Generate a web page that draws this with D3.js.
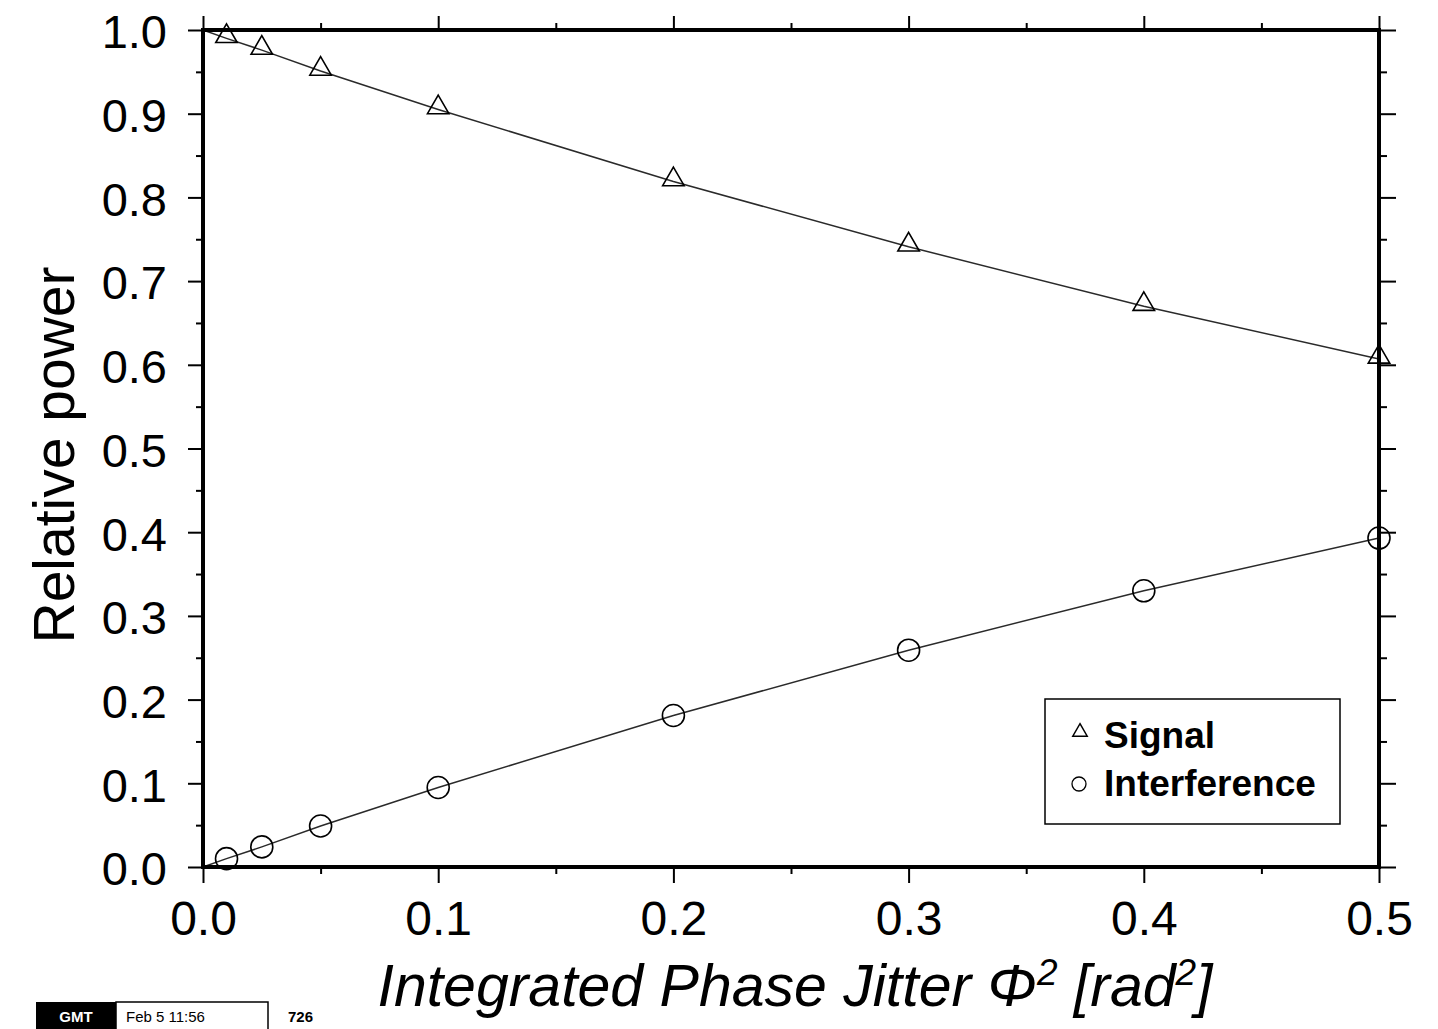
<!DOCTYPE html>
<html>
<head>
<meta charset="utf-8">
<script src="https://cdn.jsdelivr.net/npm/d3@7"></script>
<style>
  html, body { margin: 0; padding: 0; background: #fff; }
  svg { display: block; font-family: "Liberation Sans", Arial, Helvetica, sans-serif; }
</style>
</head>
<body>
<script>
// Integrated phase jitter (rad^2) at which power was evaluated
const jitter = [0, 0.01, 0.025, 0.05, 0.1, 0.2, 0.3, 0.4, 0.5];
// Relative power remaining in the signal
const signalPower = [1.0, 0.990, 0.976, 0.951, 0.905, 0.819, 0.741, 0.670, 0.607];
// Relative power scattered into interference
const interferencePower = [0.0, 0.010, 0.024, 0.049, 0.095, 0.181, 0.259, 0.330, 0.393];

const xMajor = [0, 0.1, 0.2, 0.3, 0.4, 0.5];
const xMinor = [0.05, 0.15, 0.25, 0.35, 0.45];
const yMajor = [0, 0.1, 0.2, 0.3, 0.4, 0.5, 0.6, 0.7, 0.8, 0.9, 1.0];
const yMinor = [0.05, 0.15, 0.25, 0.35, 0.45, 0.55, 0.65, 0.75, 0.85, 0.95];
const legendLabels = ["Signal", "Interference"];

const W = 1438, H = 1029;
const frame = { left: 203, right: 1379, top: 30, bottom: 867 };

const svg = d3.select("body").append("svg")
  .attr("width", W).attr("height", H);

const x = d3.scaleLinear().domain([0, 0.5]).range([frame.left, frame.right]);
const y = d3.scaleLinear().domain([0, 1]).range([frame.bottom, frame.top]);

const fmt = d3.format(".1f");

// Ticks on all four sides, pointing outward
function drawAxis(gen, pos, values, size, labels) {
  const g = svg.append("g").attr("transform", pos)
    .call(gen.tickValues(values).tickSize(size).tickSizeOuter(0)
      .tickFormat(labels ? fmt : () => ""));
  g.select(".domain").remove();
  g.selectAll(".tick line").attr("stroke", "#000").attr("stroke-width", 2);
  return g;
}

drawAxis(d3.axisLeft(y), `translate(${frame.left},0)`, yMinor, 7, false);
drawAxis(d3.axisRight(y), `translate(${frame.right},0)`, yMinor, 8, false);
drawAxis(d3.axisTop(x), `translate(0,${frame.top})`, xMinor, 7, false);
drawAxis(d3.axisBottom(x), `translate(0,${frame.bottom})`, xMinor, 7, false);
drawAxis(d3.axisRight(y), `translate(${frame.right},0)`, yMajor, 17, false);
drawAxis(d3.axisTop(x), `translate(0,${frame.top})`, xMajor, 14, false);

const yAx = drawAxis(d3.axisLeft(y), `translate(${frame.left},0)`, yMajor, 15, true);
yAx.selectAll(".tick text")
  .attr("x", -36).attr("dy", "0.38em")
  .attr("font-size", 47).attr("fill", "#000")
  .attr("font-family", "Liberation Sans, Arial, sans-serif");

const xAx = drawAxis(d3.axisBottom(x), `translate(0,${frame.bottom})`, xMajor, 16, true);
xAx.selectAll(".tick text")
  .attr("y", 34).attr("dy", "0.71em")
  .attr("font-size", 48).attr("fill", "#000")
  .attr("font-family", "Liberation Sans, Arial, sans-serif");

// Data lines
const line = d3.line().x(d => x(d[0])).y(d => y(d[1]));
const sigData = jitter.map((v, i) => [v, signalPower[i]]);
const intData = jitter.map((v, i) => [v, interferencePower[i]]);

[sigData, intData].forEach(data => {
  svg.append("path").datum(data)
    .attr("d", line)
    .attr("fill", "none")
    .attr("stroke", "#2a2a2a")
    .attr("stroke-width", 1.5);
});

// Markers
const triPath = d3.symbol().type(d3.symbolTriangle).size(200);
svg.append("g").selectAll("path").data(sigData.slice(1)).join("path")
  .attr("d", triPath)
  .attr("transform", d => `translate(${x(d[0])},${y(d[1]) - 2})`)
  .attr("fill", "none").attr("stroke", "#000").attr("stroke-width", 1.6);

svg.append("g").selectAll("circle").data(intData.slice(1)).join("circle")
  .attr("cx", d => x(d[0])).attr("cy", d => y(d[1]))
  .attr("r", 11)
  .attr("fill", "none").attr("stroke", "#000").attr("stroke-width", 1.6);

// Frame
svg.append("rect")
  .attr("x", frame.left).attr("y", frame.top)
  .attr("width", frame.right - frame.left).attr("height", frame.bottom - frame.top)
  .attr("fill", "none").attr("stroke", "#000").attr("stroke-width", 4);

// Legend
const lg = svg.append("g").attr("transform", "translate(1045,699)");
lg.append("rect")
  .attr("width", 295).attr("height", 125)
  .attr("fill", "#fff").attr("stroke", "#000").attr("stroke-width", 1.5);
lg.append("path")
  .attr("d", d3.symbol().type(d3.symbolTriangle).size(90)())
  .attr("transform", "translate(35,33)")
  .attr("fill", "none").attr("stroke", "#000").attr("stroke-width", 1.5);
lg.append("circle").attr("cx", 34).attr("cy", 85).attr("r", 7)
  .attr("fill", "none").attr("stroke", "#000").attr("stroke-width", 1.3);
legendLabels.forEach((t, i) => {
  lg.append("text")
    .attr("x", 59).attr("y", 49 + i * 48)
    .attr("font-size", 37).attr("font-weight", "bold")
    .text(t);
});

// Axis titles
svg.append("text")
  .attr("transform", "translate(74,455) rotate(-90)")
  .attr("text-anchor", "middle")
  .attr("font-size", 57)
  .text("Relative power");

const xt = svg.append("text")
  .attr("x", 795).attr("y", 1006)
  .attr("text-anchor", "middle")
  .attr("font-size", 59).attr("font-style", "italic");
xt.append("tspan").text("Integrated Phase Jitter \u03A6");
xt.append("tspan").attr("font-size", 37).attr("dy", -21).text("2");
xt.append("tspan").attr("dy", 21).text(" [rad");
xt.append("tspan").attr("font-size", 37).attr("dy", -21).text("2");
xt.append("tspan").attr("dy", 21).text("]");

// Time stamp
const ts = svg.append("g").attr("font-size", 15);
ts.append("rect").attr("x", 36).attr("y", 1002).attr("width", 80).attr("height", 30).attr("fill", "#000");
ts.append("text").attr("x", 76).attr("y", 1022).attr("text-anchor", "middle")
  .attr("fill", "#fff").attr("font-weight", "bold").text("GMT");
ts.append("rect").attr("x", 116).attr("y", 1002).attr("width", 152).attr("height", 30)
  .attr("fill", "none").attr("stroke", "#000").attr("stroke-width", 1.5);
ts.append("text").attr("x", 126).attr("y", 1022).text("Feb  5 11:56");
ts.append("text").attr("x", 288).attr("y", 1022).attr("font-weight", "bold").text("726");
</script>
</body>
</html>
